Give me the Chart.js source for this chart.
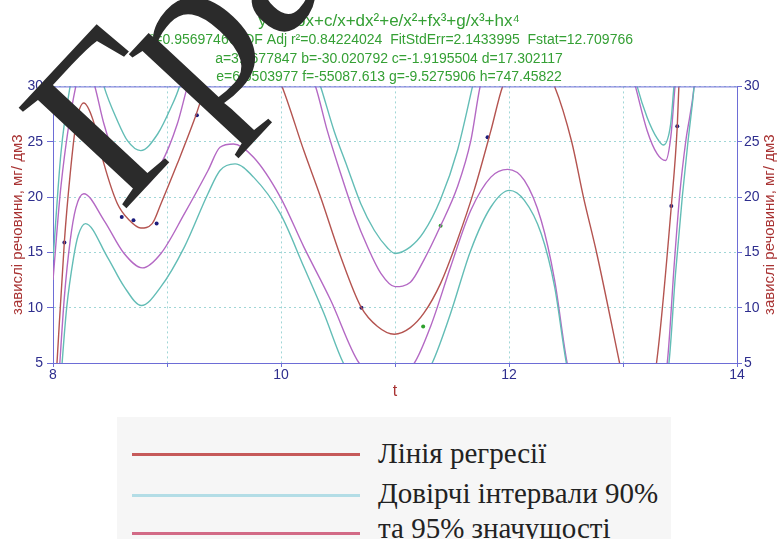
<!DOCTYPE html>
<html>
<head>
<meta charset="utf-8">
<script src="https://cdn.jsdelivr.net/npm/chart.js@4.4.1/dist/chart.umd.min.js"></script>
<style>
  body { margin: 0; width: 778px; height: 539px; overflow: hidden; background: #fff; position: relative; }
  #wrap { position: absolute; left: 0; top: 0; width: 778px; height: 400px; }
  #legend { position: absolute; left: 117px; top: 417px; width: 554px; height: 130px; background: #f6f6f6; }
  .lg-line { position: absolute; left: 15px; width: 228px; height: 3px; }
  .lg-text { position: absolute; left: 261px; font-family: "Liberation Serif", "Times New Roman", serif;
             font-size: 29px; line-height: 29px; color: #222; white-space: nowrap; }
</style>
</head>
<body>
<div id="wrap"><canvas id="chart" width="778" height="400"></canvas></div>
<div id="legend">
  <div class="lg-line" style="top:36px;background:#c65a5a"></div>
  <div class="lg-text" style="top:22px">Лінія регресії</div>
  <div class="lg-line" style="top:77px;background:#b3dde6"></div>
  <div class="lg-text" style="top:62px">Довірчі інтервали 90%</div>
  <div class="lg-line" style="top:115px;background:#d26a86"></div>
  <div class="lg-text" style="top:97px">та 95% значущості</div>
</div>
<script>
// regression line
const tFit = [8.00, 8.035, 8.10, 8.15, 8.20, 8.27, 8.35, 8.447, 8.565, 8.67, 8.77, 8.87, 8.947, 9.09, 9.24, 9.34, 9.50, 9.67, 9.85, 10.009,
  10.20, 10.347, 10.524, 10.70, 10.847, 10.994, 11.135, 11.253, 11.40, 11.547, 11.694, 11.841, 11.944, 12.17, 12.40, 12.55, 12.653, 12.77, 12.97,
  13.13, 13.294, 13.424, 13.476, 13.49, 13.60];
const vFit = [-1, 5, 16, 22, 26.5, 28.5, 27, 23, 19.4, 17.9, 17.2, 17.6, 19.4, 23.0, 27.0, 30, 33.5, 35, 33.5, 30,
  24.2, 20.0, 14.6, 10.1, 8.3, 7.6, 8.2, 9.5, 12.2, 16.1, 20.6, 26.0, 30, 34, 30, 25, 20.0, 14.9, 5,
  -3, 5, 19.2, 26.4, 30, 50];

// 95% band (violet)
const tUp95 = [8.00, 8.07, 8.20, 8.27, 8.35, 8.447, 8.565, 8.67, 8.77, 8.947, 9.09, 9.18, 9.45, 9.67, 9.95, 10.303, 10.406, 10.524, 10.641,
  10.759, 10.876, 11.0, 11.135, 11.253, 11.40, 11.547, 11.665, 11.747, 12.0, 12.5, 12.9, 13.109, 13.212, 13.30, 13.374, 13.42, 13.456, 13.60];
const vUp95 = [12.5, 21, 30, 32, 30.6, 26.6, 23.0, 21.5, 20.8, 23.0, 26.6, 30, 38, 40, 38, 30, 26.0, 22.1, 18.5,
  15.5, 13.1, 11.9, 12.3, 14.3, 17.4, 20.9, 25.1, 30, 38, 42, 38, 30, 26.0, 23.9, 23.3, 25.5, 30, 45];
const tLo95 = [8.00, 8.06, 8.10, 8.15, 8.20, 8.27, 8.447, 8.624, 8.785, 8.947, 9.153, 9.36, 9.465, 9.582, 9.759, 9.994, 10.2, 10.435, 10.685,
  10.95, 11.17, 11.312, 11.488, 11.665, 11.841, 11.988, 12.135, 12.282, 12.40, 12.51, 12.95, 13.388, 13.45, 13.50, 13.55, 13.624, 13.70];
const vLo95 = [-5, 5, 11, 16, 19, 20.3, 17.9, 14.9, 13.6, 14.9, 18.5, 22.4, 24.5, 24.8, 23.6, 20.0, 15.5, 10.7, 5,
  3.2, 5, 8.3, 13.7, 18.8, 21.8, 22.5, 21.5, 17.9, 12.5, 5, -12, 5, 14, 20.5, 25, 30, 40];

// 90% band (teal)
const tUp90 = [8.00, 8.07, 8.15, 8.27, 8.35, 8.447, 8.565, 8.653, 8.77, 8.918, 9.035, 9.109, 9.35, 9.67, 10.0, 10.347, 10.465, 10.582, 10.70,
  10.818, 10.935, 11.0, 11.135, 11.25, 11.40, 11.55, 11.68, 11.9, 12.4, 12.9, 13.124, 13.212, 13.30, 13.353, 13.418, 13.447, 13.60];
const vUp90 = [14.3, 24, 30, 35.5, 34, 30, 26.9, 25.1, 24.2, 25.7, 28.1, 30, 40, 44, 40, 30, 26.0, 22.7, 19.4,
  17.0, 15.4, 14.9, 15.5, 16.8, 19.8, 24.3, 30, 40, 48, 40, 30, 27.2, 25.3, 24.7, 26.6, 30, 45];
const tLo90 = [8.00, 8.08, 8.12, 8.18, 8.22, 8.285, 8.476, 8.624, 8.776, 8.947, 9.153, 9.359, 9.465, 9.597, 9.759, 9.994, 10.2, 10.376, 10.547,
  10.95, 11.326, 11.488, 11.665, 11.841, 12.003, 12.135, 12.282, 12.40, 12.503, 12.95, 13.403, 13.46, 13.52, 13.57, 13.624, 13.70];
const vLo90 = [-7, 5, 10, 14.5, 16.5, 17.6, 14.6, 11.9, 10.2, 11.9, 15.5, 20.3, 22.4, 23.0, 21.8, 18.5, 13.7, 9.5, 5,
  -1, 5, 9.5, 15.2, 19.1, 20.6, 19.7, 16.7, 11.9, 5, -15, 5, 13, 20, 25, 30, 40];

// measured points
const tObs = [8.10, 8.603, 8.706, 8.909, 9.262, 10.706, 11.812, 13.424, 13.476];
const vObs = [15.9, 18.2, 17.9, 17.6, 27.4, 10.0, 25.4, 19.2, 26.4];
const tObs2 = [11.247, 11.40];
const vObs2 = [8.3, 17.4];

const xTicks = [8, 10, 12, 14];
const yTicks = [5, 10, 15, 20, 25, 30];

const titleLine = 'y=a+bx+c/x+dx²+e/x²+fx³+g/x³+hx⁴';
const statLines = [
  'r²=0.95697466  DF Adj r²=0.84224024  FitStdErr=2.1433995  Fstat=12.709766',
  'a=3.1677847 b=-30.020792 c=-1.9195504 d=17.302117',
  'e=6.5503977 f=-55087.613 g=-9.5275906 h=747.45822'
];
const yTitle = 'завислі речовини, мг/ дм3';

const axisCol = '#6d6dd6';
const tickCol = '#2e2e8e';
const gridCol = '#9fd6d6';
const titleCol = '#a83232';
const greenCol = '#35a035';
const sans = '"Liberation Sans", Arial, sans-serif';

function pts(xs, ys) {
  return xs.map((x, i) => ({ x: x, y: ys[i] }));
}

function curve(xs, ys, color) {
  return {
    type: 'line',
    data: pts(xs, ys),
    borderColor: color,
    borderWidth: 1.4,
    pointRadius: 0,
    cubicInterpolationMode: 'monotone',
    fill: false
  };
}

const framePlugin = {
  id: 'frame',
  afterDraw(c) {
    const a = c.chartArea;
    const ctx = c.ctx;
    ctx.save();
    ctx.strokeStyle = axisCol;
    ctx.lineWidth = 1;
    ctx.beginPath();
    ctx.moveTo(a.left, a.top + 0.5);
    ctx.lineTo(a.right, a.top + 0.5);
    ctx.stroke();
    // right axis title, read bottom to top like the left one
    ctx.fillStyle = titleCol;
    ctx.font = '15px ' + sans;
    ctx.textAlign = 'center';
    ctx.textBaseline = 'middle';
    ctx.translate(770, (a.top + a.bottom) / 2);
    ctx.rotate(-Math.PI / 2);
    ctx.fillText(yTitle, 0, 0);
    ctx.restore();

    // big stamp lettering over the picture
    ctx.save();
    ctx.translate(122, 213);
    ctx.rotate(-47 * Math.PI / 180);
    ctx.font = '225px "Liberation Serif", "Times New Roman", serif';
    ctx.textAlign = 'left';
    ctx.textBaseline = 'alphabetic';
    ctx.fillStyle = '#2b2b2b';
    ctx.fillText('Графік', 0, 0);
    ctx.restore();
  }
};

chart = new Chart(document.getElementById('chart'), {
  type: 'scatter',
  data: {
    datasets: [
      curve(tUp90, vUp90, '#63bdb6'),
      curve(tLo90, vLo90, '#63bdb6'),
      curve(tUp95, vUp95, '#b469c4'),
      curve(tLo95, vLo95, '#b469c4'),
      curve(tFit, vFit, '#b45450'),
      { data: pts(tObs, vObs), backgroundColor: '#1c1c7c', borderWidth: 0, pointRadius: 2 },
      { data: pts(tObs2, vObs2), backgroundColor: '#2ca02c', borderWidth: 0, pointRadius: 2 }
    ]
  },
  options: {
    responsive: false,
    animation: false,
    devicePixelRatio: 1,
    plugins: {
      legend: { display: false },
      tooltip: { enabled: false },
      title: {
        display: true,
        text: titleLine,
        color: greenCol,
        font: { family: sans, size: 17, weight: 'normal', lineHeight: 1.2 },
        padding: { top: 11, bottom: 0 }
      },
      subtitle: {
        display: true,
        text: statLines,
        color: greenCol,
        font: { family: sans, size: 14, lineHeight: 1.31 },
        padding: { top: 0, bottom: 0 }
      }
    },
    scales: {
      x: {
        type: 'linear',
        min: 8, max: 14,
        afterFit: s => { s.height = 37; },
        ticks: {
          stepSize: 1,
          autoSkip: false,
          maxRotation: 0,
          padding: 0,
          color: tickCol,
          font: { family: sans, size: 14 },
          callback: v => xTicks.includes(v) ? v : ''
        },
        grid: { color: gridCol, tickColor: axisCol, tickLength: 4 },
        border: { color: axisCol, dash: [2, 3] },
        title: { display: true, text: 't', color: titleCol, font: { family: sans, size: 16 }, padding: { top: 0, bottom: -1 } }
      },
      y: {
        min: 5, max: 30,
        afterFit: s => { s.width = 53; },
        ticks: {
          stepSize: 5,
          padding: 4,
          color: tickCol,
          font: { family: sans, size: 14 },
          callback: v => yTicks.includes(v) ? v : ''
        },
        grid: { color: gridCol, tickColor: axisCol, tickLength: 6 },
        border: { color: axisCol, dash: [2, 3] },
        title: { display: true, text: yTitle, color: titleCol, font: { family: sans, size: 15, lineHeight: 1.2 }, padding: { top: 9, bottom: 0 } }
      },
      y2: {
        position: 'right',
        min: 5, max: 30,
        afterFit: s => { s.width = 41; },
        ticks: {
          stepSize: 5,
          padding: 2,
          color: tickCol,
          font: { family: sans, size: 14 },
          callback: v => yTicks.includes(v) ? v : ''
        },
        grid: { drawOnChartArea: false, tickColor: axisCol, tickLength: 5 },
        border: { color: axisCol }
      }
    }
  },
  plugins: [framePlugin]
});
</script>
</body>
</html>
